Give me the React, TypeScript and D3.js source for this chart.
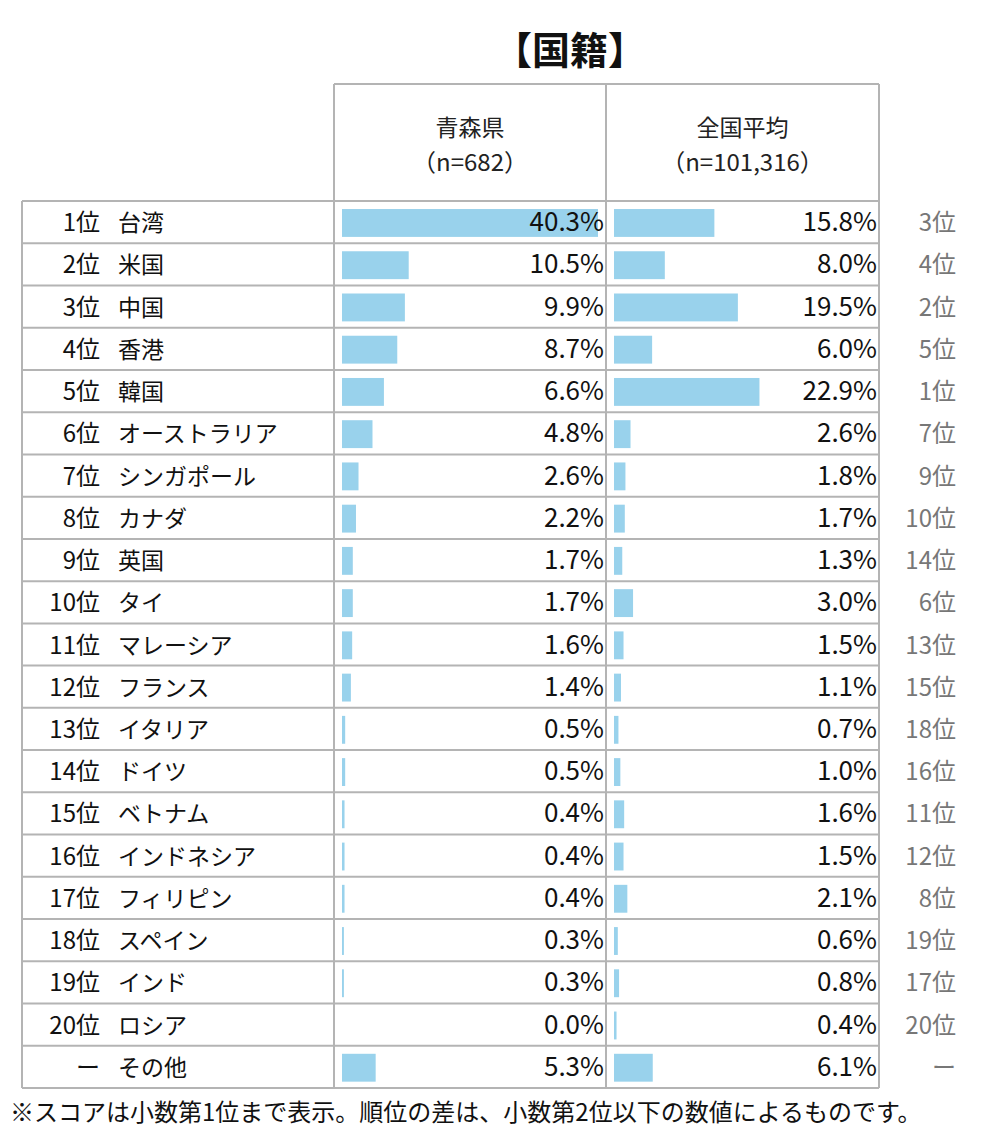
import React from "react";
import * as d3 from "d3";

const ranks = ["1位","2位","3位","4位","5位","6位","7位","8位","9位","10位","11位","12位","13位","14位","15位","16位","17位","18位","19位","20位","ー"];
const countries = ["台湾","米国","中国","香港","韓国","オーストラリア","シンガポール","カナダ","英国","タイ","マレーシア","フランス","イタリア","ドイツ","ベトナム","インドネシア","フィリピン","スペイン","インド","ロシア","その他"];
const aomori = [40.3,10.5,9.9,8.7,6.6,4.8,2.6,2.2,1.7,1.7,1.6,1.4,0.5,0.5,0.4,0.4,0.4,0.3,0.3,0.0,5.3];
const national = [15.8,8.0,19.5,6.0,22.9,2.6,1.8,1.7,1.3,3.0,1.5,1.1,0.7,1.0,1.6,1.5,2.1,0.6,0.8,0.4,6.1];
const nationalRanks = ["3位","4位","2位","5位","1位","7位","9位","10位","14位","6位","13位","15位","18位","16位","11位","12位","8位","19位","17位","20位","ー"];
const headers = [["青森県","（n=682）"],["全国平均","（n=101,316）"]];
const title = "【国籍】";
const footnote = "※スコアは小数第1位まで表示。順位の差は、小数第2位以下の数値によるものです。";

const W = 990, H = 1140;
const font = "'Noto Sans CJK JP', 'Noto Sans', sans-serif";
const tableLeft = 22, labelRight = 334, col2Left = 606, tableRight = 879;
const headTop = 84, rowsTop = 201, rowsBottom = 1088;
const lineColor = "#b4b4b4";
const barColor = "#99d2ec";

export default function App() {
  const y = d3.scaleBand<number>().domain(d3.range(countries.length)).range([rowsTop, rowsBottom]).padding(0);
  const x = d3.scaleLinear().domain([0, 40.3]).range([0, 256]);
  const colLefts = [labelRight, col2Left];
  const colRights = [col2Left, tableRight];
  const series = [aomori, national];
  const bh = y.bandwidth();
  return (
    <svg width={W} height={H} style={{ display: "block", margin: "-8px 0 0 -8px" }} fontFamily={font}>
      <rect width={W} height={H} fill="#fff" />
      <text x={570} y={64} textAnchor="middle" fontSize={38} fontWeight="bold" fill="#111">{title}</text>
      <line x1={labelRight} x2={tableRight} y1={headTop} y2={headTop} stroke={lineColor} strokeWidth={2} />
      {headers.map((h, i) => (
        <g key={i}>
          <text x={(colLefts[i] + colRights[i]) / 2} y={136} textAnchor="middle" fontSize={23} fill="#222">{h[0]}</text>
          <text x={(colLefts[i] + colRights[i]) / 2} y={171} textAnchor="middle" fontSize={24} fill="#222">{h[1]}</text>
        </g>
      ))}
      {series.map((s, si) => s.map((v, i) => (
        <rect key={`${si}-${i}`} x={colLefts[si] + 8} y={(y(i) as number) + bh * 0.19} width={Math.max(0, x(v))} height={bh * 0.66} fill={barColor} />
      )))}
      {countries.map((_, i) => (
        <line key={i} x1={tableLeft} x2={tableRight} y1={y(i) as number} y2={y(i) as number} stroke={lineColor} strokeWidth={2} />
      ))}
      <line x1={tableLeft} x2={tableRight} y1={rowsBottom} y2={rowsBottom} stroke={lineColor} strokeWidth={2} />
      <line x1={tableLeft} x2={tableLeft} y1={rowsTop} y2={rowsBottom} stroke={lineColor} strokeWidth={2} />
      {[labelRight, col2Left, tableRight].map((xx, i) => (
        <line key={i} x1={xx} x2={xx} y1={headTop} y2={rowsBottom} stroke={lineColor} strokeWidth={2} />
      ))}
      {countries.map((c, i) => {
        const cy = (y(i) as number) + bh / 2 + 9;
        return (
          <g key={i}>
            <text x={100} y={cy} textAnchor="end" fontSize={24} fill="#111">{ranks[i]}</text>
            <text x={118} y={cy} fontSize={23} fill="#111">{c}</text>
            <text x={col2Left - 2} y={cy} textAnchor="end" fontSize={26} fill="#111">{aomori[i].toFixed(1)}%</text>
            <text x={tableRight - 2} y={cy} textAnchor="end" fontSize={26} fill="#111">{national[i].toFixed(1)}%</text>
            <text x={956} y={cy} textAnchor="end" fontSize={24} fill="#777">{nationalRanks[i]}</text>
          </g>
        );
      })}
      <text x={10} y={1121} fontSize={24} fill="#111">{footnote}</text>
    </svg>
  );
}
